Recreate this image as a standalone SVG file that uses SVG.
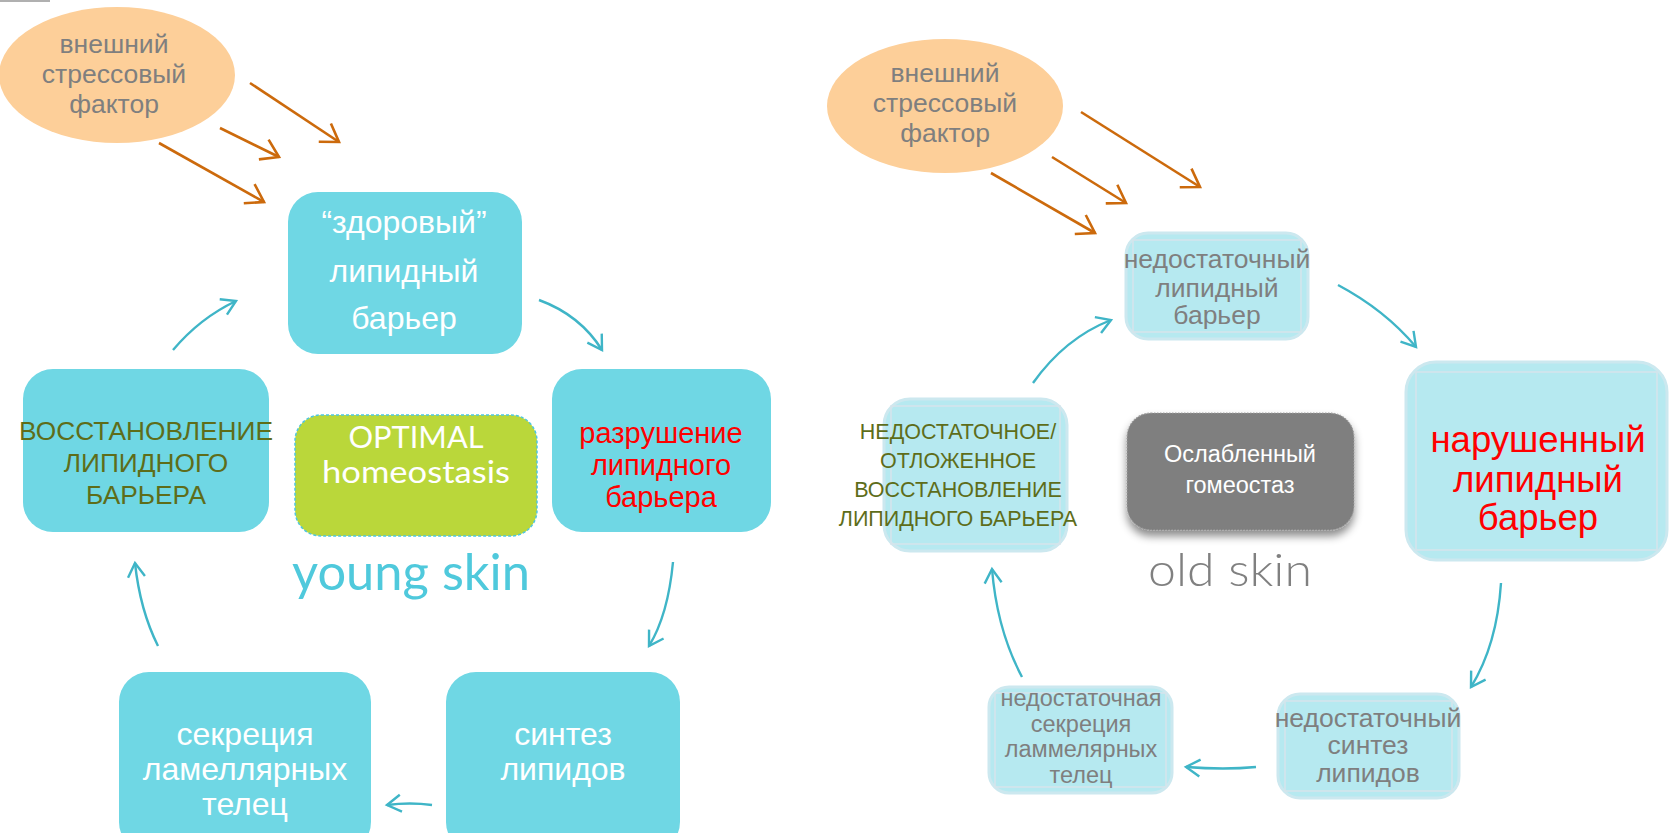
<svg xmlns="http://www.w3.org/2000/svg" width="1669" height="833" viewBox="0 0 1669 833">
<style>
.t{font-family:"Liberation Sans",Arial,sans-serif;text-anchor:middle}
.w{fill:#ffffff}
.g{fill:#7f7f7f}
.o{fill:#5e6d1a}
.r{fill:#ff0000}
.geo{font-family:Lato,"Open Sans",sans-serif;font-weight:300;text-anchor:middle}
.reg{font-weight:400}
.box{fill:#6fd7e4}
.lb{fill:#b6e9f0;stroke:#cce8ef;stroke-width:3}
.lbi{fill:none;stroke:#d6e4eb;stroke-width:1.5}
.ell{fill:#fdcf99}
.oa{fill:none;stroke:#cc6a0c;stroke-width:2.6;marker-end:url(#mo)}
.ta{fill:none;stroke:#3fb5c7;stroke-width:2.4;marker-end:url(#mt)}
</style>
<defs>
<marker id="mo" markerUnits="userSpaceOnUse" orient="auto" refX="0" refY="0" markerWidth="40" markerHeight="40" viewBox="-30 -20 40 40" overflow="visible">
<path d="M-17,-11 L0,0 L-17,11" fill="none" stroke="#cc6a0c" stroke-width="2.6"/>
</marker>
<marker id="mt" markerUnits="userSpaceOnUse" orient="auto" refX="0" refY="0" markerWidth="40" markerHeight="40" viewBox="-30 -20 40 40" overflow="visible">
<path d="M-14,-8.5 L0,0 L-14,8.5" fill="none" stroke="#3fb5c7" stroke-width="2.4"/>
</marker>
<filter id="sh" x="-10%" y="-10%" width="120%" height="130%">
<feDropShadow dx="0" dy="6" stdDeviation="4" flood-color="#000" flood-opacity="0.45"/>
</filter>
</defs>
<rect x="0" y="0" width="50" height="2" fill="#b0b0b0"/>

<g id="stress-left">
<ellipse class="ell" cx="117" cy="75" rx="118" ry="68"/>
<text class="t g" font-size="26.5" x="114" y="53">внешний</text>
<text class="t g" font-size="26.5" x="114" y="83">стрессовый</text>
<text class="t g" font-size="26.5" x="114" y="113">фактор</text>
</g>

<g id="healthy-barrier">
<rect class="box" x="288" y="192" width="234" height="162" rx="30"/>
<text class="t w" font-size="32" x="404" y="233">“здоровый”</text>
<text class="t w" font-size="32" x="404" y="282">липидный</text>
<text class="t w" font-size="32" x="404" y="329">барьер</text>
</g>

<g id="restoration">
<rect class="box" x="23" y="369" width="246" height="163" rx="30"/>
<text class="t o" font-size="26.3" x="146" y="440">ВОССТАНОВЛЕНИЕ</text>
<text class="t o" font-size="26.3" x="146" y="472">ЛИПИДНОГО</text>
<text class="t o" font-size="26.3" x="146" y="504">БАРЬЕРА</text>
</g>

<g id="optimal">
<rect x="295" y="415" width="242" height="121" rx="26" fill="#bad73a" stroke="#4fc6df" stroke-width="1.5" stroke-dasharray="3 2"/>
<text class="geo reg w" font-size="30" x="416" y="448" textLength="135" lengthAdjust="spacingAndGlyphs">OPTIMAL</text>
<text class="geo reg w" font-size="30" x="416" y="483" textLength="188" lengthAdjust="spacingAndGlyphs">homeostasis</text>
</g>

<g id="destruction">
<rect class="box" x="552" y="369" width="219" height="163" rx="30"/>
<text class="t r" font-size="29" x="661" y="443">разрушение</text>
<text class="t r" font-size="29" x="661" y="475">липидного</text>
<text class="t r" font-size="29" x="661" y="507">барьера</text>
</g>

<g id="young-skin">
<text class="geo reg" fill="#4fc9dc" font-size="50" x="411" y="590" textLength="238" lengthAdjust="spacingAndGlyphs">young skin</text>
</g>

<g id="synthesis">
<rect class="box" x="446" y="672" width="234" height="180" rx="30"/>
<text class="t w" font-size="32" x="563" y="745">синтез</text>
<text class="t w" font-size="32" x="563" y="780">липидов</text>
</g>

<g id="secretion">
<rect class="box" x="119" y="672" width="252" height="180" rx="30"/>
<text class="t w" font-size="32" x="245" y="745">секреция</text>
<text class="t w" font-size="32" x="245" y="780">ламеллярных</text>
<text class="t w" font-size="32" x="245" y="815">телец</text>
</g>

<g id="stress-right">
<ellipse class="ell" cx="945" cy="106" rx="118" ry="67"/>
<text class="t g" font-size="26.5" x="945" y="82">внешний</text>
<text class="t g" font-size="26.5" x="945" y="112">стрессовый</text>
<text class="t g" font-size="26.5" x="945" y="142">фактор</text>
</g>

<g id="insufficient-barrier">
<rect class="lb" x="1126" y="233" width="182" height="106" rx="22"/>
<rect class="lbi" x="1133" y="240" width="168" height="92"/>
<text class="t g" font-size="26.5" x="1217" y="268">недостаточный</text>
<text class="t g" font-size="26.5" x="1217" y="297">липидный</text>
<text class="t g" font-size="26.5" x="1217" y="324">барьер</text>
</g>

<g id="impaired-barrier">
<rect class="lb" x="1406" y="362" width="261" height="198" rx="30"/>
<rect class="lbi" x="1416" y="372" width="241" height="178"/>
<text class="t r" font-size="36.5" x="1538" y="452">нарушенный</text>
<text class="t r" font-size="36.5" x="1538" y="492">липидный</text>
<text class="t r" font-size="36.5" x="1538" y="530">барьер</text>
</g>

<g id="weak-homeostasis">
<rect x="1127" y="413" width="227" height="117" rx="24" fill="#7f7f7f" stroke="#a0a0a0" stroke-width="1.2" stroke-dasharray="1.5 1.5" filter="url(#sh)"/>
<text class="t w" font-size="23.5" x="1240" y="462">Ослабленный</text>
<text class="t w" font-size="23.5" x="1240" y="493">гомеостаз</text>
</g>

<g id="old-skin">
<text class="geo" fill="#808080" font-size="46" x="1230" y="586" textLength="164" lengthAdjust="spacingAndGlyphs">old skin</text>
</g>

<g id="delayed-restoration">
<rect class="lb" x="884" y="399" width="183" height="152" rx="26"/>
<rect class="lbi" x="891" y="406" width="169" height="138"/>
<text class="t o" font-size="21.5" x="958" y="439">НЕДОСТАТОЧНОЕ/</text>
<text class="t o" font-size="21.5" x="958" y="468">ОТЛОЖЕННОЕ</text>
<text class="t o" font-size="21.5" x="958" y="497">ВОССТАНОВЛЕНИЕ</text>
<text class="t o" font-size="21.5" x="958" y="526">ЛИПИДНОГО БАРЬЕРА</text>
</g>

<g id="insufficient-synthesis">
<rect class="lb" x="1278" y="694" width="181" height="104" rx="22"/>
<rect class="lbi" x="1285" y="701" width="167" height="90"/>
<text class="t g" font-size="26.5" x="1368" y="727">недостаточный</text>
<text class="t g" font-size="26.5" x="1368" y="754">синтез</text>
<text class="t g" font-size="26.5" x="1368" y="782">липидов</text>
</g>

<g id="insufficient-secretion">
<rect class="lb" x="989" y="687" width="183" height="106" rx="20"/>
<rect class="lbi" x="995" y="693" width="171" height="94"/>
<text class="t g" font-size="23.5" x="1081" y="706">недостаточная</text>
<text class="t g" font-size="23.5" x="1081" y="732">секреция</text>
<text class="t g" font-size="23.5" x="1081" y="757">ламмелярных</text>
<text class="t g" font-size="23.5" x="1081" y="783">телец</text>
</g>

<g id="connectors">
<path class="oa" d="M250,83 L339,142"/>
<path class="oa" d="M220,128 L279,157"/>
<path class="oa" d="M159,143 L264,202"/>
<path class="ta" d="M173,350 Q200,318 236,301"/>
<path class="ta" d="M539,300 Q580,315 602,350"/>
<path class="ta" d="M673,562 Q668,615 649,646"/>
<path class="ta" d="M432,805 Q410,802 387,805"/>
<path class="ta" d="M158,646 Q140,610 135,563"/>
<path class="oa" d="M1081,112 L1200,187"/>
<path class="oa" d="M1052,157 L1126,203"/>
<path class="oa" d="M991,173 L1095,233"/>
<path class="ta" d="M1033,383 Q1065,338 1111,320"/>
<path class="ta" d="M1338,285 Q1385,310 1416,347"/>
<path class="ta" d="M1501,583 Q1497,645 1471,687"/>
<path class="ta" d="M1256,767 Q1225,770 1186,767"/>
<path class="ta" d="M1022,677 Q997,630 992,569"/>
</g>
</svg>
